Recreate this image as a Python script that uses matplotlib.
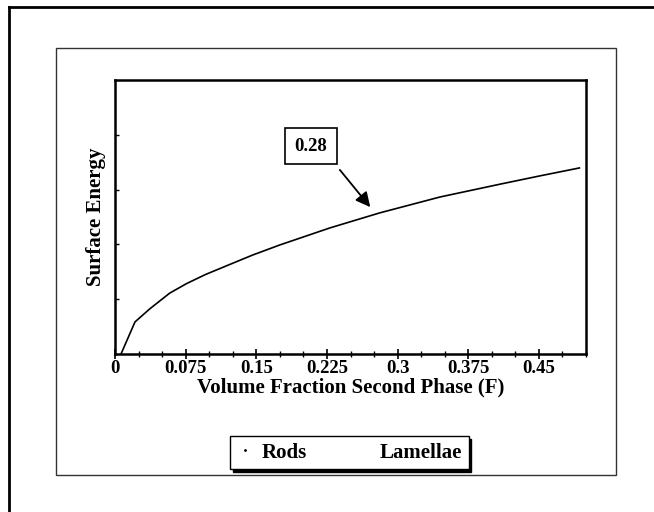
from matplotlib import pyplot as plt
from matplotlib.lines import Line2D
from matplotlib.patches import Rectangle
from matplotlib.ticker import MultipleLocator

# values
frac = [0.0064, 0.0212, 0.037, 0.058, 0.076, 0.096, 0.122, 0.146, 0.175, 0.228, 0.281, 0.345, 0.409, 0.451, 0.493]
energy = [0.0, 0.117, 0.165, 0.222, 0.257, 0.29, 0.327, 0.361, 0.398, 0.46, 0.515, 0.573, 0.62, 0.65, 0.679]
xticks = [0, 0.075, 0.15, 0.225, 0.3, 0.375, 0.45]
xtick_labels = ['0', '0.075', '0.15', '0.225', '0.3', '0.375', '0.45']
legend_names = ['Rods', 'Lamellae']
marked_x = 0.271
marked_y = 0.536
marked_text = '0.28'

plt.rcParams['font.family'] = 'Liberation Serif'
plt.rcParams['font.weight'] = 'bold'

fig = plt.figure(figsize=(6.54, 5.12), dpi=100)

# scanned page frames
fig.add_artist(Line2D([9 / 654, 9 / 654], [0, 1 - 7 / 512], color='black', lw=2, transform=fig.transFigure))
fig.add_artist(Line2D([9 / 654, 1], [1 - 7 / 512, 1 - 7 / 512], color='black', lw=2, transform=fig.transFigure))
fig.add_artist(Rectangle((56 / 654, 37 / 512), 560 / 654, 427 / 512, fill=False, edgecolor='#333333', lw=1,
                         transform=fig.transFigure))

ax = fig.add_axes([115 / 654, 158 / 512, 471 / 654, 274 / 512])
ax.plot(frac, energy, color='black', linewidth=1.2)
ax.set_xlim(0, 0.5)
ax.set_ylim(0, 1)
ax.set_xticks(xticks)
ax.set_xticklabels(xtick_labels)
ax.xaxis.set_minor_locator(MultipleLocator(0.025))
ax.set_yticks([0.2, 0.4, 0.6, 0.8])
ax.set_yticklabels([])
ax.tick_params(axis='x', which='major', direction='inout', length=7, width=1.2, pad=1, labelsize=13.5)
ax.tick_params(axis='x', which='minor', direction='inout', length=4, width=1)
ax.tick_params(axis='y', direction='in', length=3, width=1)
for s in ax.spines.values():
    s.set_linewidth(1.8)
ax.set_xlabel('Volume Fraction Second Phase (F)', fontsize=15, fontweight='bold', labelpad=0)
ax.set_ylabel('Surface Energy', fontsize=15, fontweight='bold', labelpad=3)

ax.annotate(marked_text, xy=(marked_x, marked_y), xytext=(0.208, 0.759), fontsize=13.5, fontweight='bold',
            ha='center', va='center',
            bbox=dict(boxstyle='square,pad=0.5', fc='white', ec='black', lw=1.2),
            arrowprops=dict(arrowstyle='-|>', color='black', lw=1.3, mutation_scale=22,
                            relpos=(1, 0), shrinkA=5, shrinkB=0))

handles = [Line2D([], [], linestyle='none', marker='.', markersize=2, color='black'),
           Line2D([], [], linestyle='none')]
fig.legend(handles, legend_names, loc='center', bbox_to_anchor=(349.5 / 654, 1 - 452.5 / 512), ncol=2,
           fontsize=15, frameon=True, fancybox=False, edgecolor='black', framealpha=1,
           shadow={'color': 'black', 'alpha': 1}, handlelength=0.8, handletextpad=0.4,
           columnspacing=2.3, borderpad=0.3)

plt.savefig('out.png', dpi=100)
